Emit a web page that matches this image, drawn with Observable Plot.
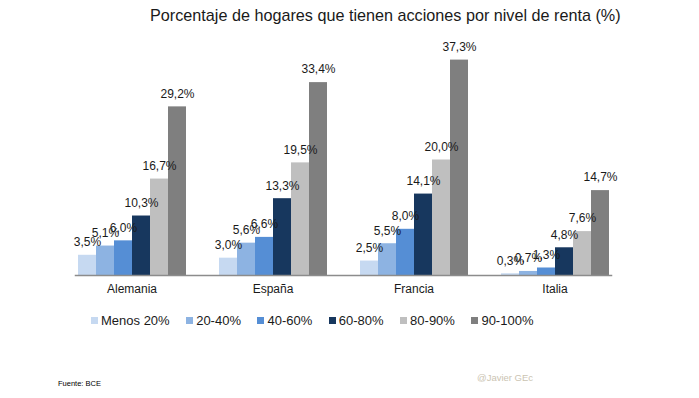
<!DOCTYPE html>
<html><head><meta charset="utf-8">
<script src="https://cdn.jsdelivr.net/npm/d3@7"></script>
<script src="https://cdn.jsdelivr.net/npm/@observablehq/plot@0.6"></script>
<style>
body{margin:0;background:#fff;font-family:"Liberation Sans",Arial,sans-serif;}
#wrap{position:relative;width:699px;height:398px;overflow:hidden;background:#fff;}
#chart{position:absolute;left:0;top:0;}
#title{position:absolute;left:0;top:6px;width:699px;padding-left:150px;box-sizing:border-box;font-size:16.2px;color:#1a1a1a;white-space:nowrap;}
#legend{position:absolute;left:91px;top:313px;display:flex;align-items:center;font-size:13px;color:#1a1a1a;white-space:nowrap;}
#legend .item{display:flex;align-items:center;margin-right:16.5px;}
#legend .sw{width:7px;height:7px;margin-right:3px;}
#source{position:absolute;left:58px;top:379px;font-size:7.5px;color:#000;}
#credit{position:absolute;left:477px;top:372px;font-size:9.5px;color:#cbc4b2;}
</style>
</head><body>
<div id="wrap">
  <div id="chart"></div>
  <div id="title"></div>
  <div id="legend"></div>
  <div id="source"></div>
  <div id="credit"></div>
</div>
<script>
const titulo = "Porcentaje de hogares que tienen acciones por nivel de renta (%)";
const fuente = "Fuente: BCE";
const autor = "@Javier GEc";
const paises = ["Alemania", "España", "Francia", "Italia"];
const grupos = ["Menos 20%", "20-40%", "40-60%", "60-80%", "80-90%", "90-100%"];
const colores = ["#c6d9f1", "#8db3e2", "#558ed5", "#17375e", "#bfbfbf", "#7f7f7f"];
const alemania = [3.5, 5.1, 6.0, 10.3, 16.7, 29.2];
const espana   = [3.0, 5.6, 6.6, 13.3, 19.5, 33.4];
const francia  = [2.5, 5.5, 8.0, 14.1, 20.0, 37.3];
const italia   = [0.3, 0.7, 1.3, 4.8, 7.6, 14.7];
const valores = [alemania, espana, francia, italia];

const data = paises.flatMap((p, i) => grupos.map((g, j) => ({pais: p, grupo: g, valor: valores[i][j]})));
const fmt = v => v.toFixed(1).replace(".", ",") + "%";

const chart = Plot.plot({
  width: 699,
  height: 300,
  marginLeft: 60,
  marginRight: 73,
  marginTop: 44,
  marginBottom: 25,
  style: {fontFamily: '"Liberation Sans", Arial, sans-serif', fontSize: "12px", color: "#1a1a1a", background: "transparent"},
  fx: {domain: paises, paddingInner: 0.2, paddingOuter: 0.1, label: null, tickSize: 0, tickPadding: 9, fontSize: 13},
  x: {domain: grupos, padding: 0, axis: null},
  y: {domain: [0, 40], axis: null},
  color: {domain: grupos, range: colores},
  marks: [
    Plot.barY(data, {fx: "pais", x: "grupo", y: "valor", fill: "grupo"}),
    Plot.text(data, {fx: "pais", x: "grupo", y: "valor", text: d => fmt(d.valor), dy: -13, fontSize: 12, fill: "#1a1a1a"}),
    Plot.frame({anchor: "bottom", facet: "super", stroke: "#8c8c8c", strokeWidth: 1.5})
  ]
});
document.getElementById("chart").appendChild(chart);

document.getElementById("title").textContent = titulo;
document.getElementById("source").textContent = fuente;
document.getElementById("credit").textContent = autor;

const cs = chart.scale("color");
const leg = d3.select("#legend");
cs.domain.forEach((g, i) => {
  const it = leg.append("div").attr("class", "item");
  it.append("div").attr("class", "sw").style("background", cs.range[i]);
  it.append("span").text(g);
});
</script>
</body></html>
